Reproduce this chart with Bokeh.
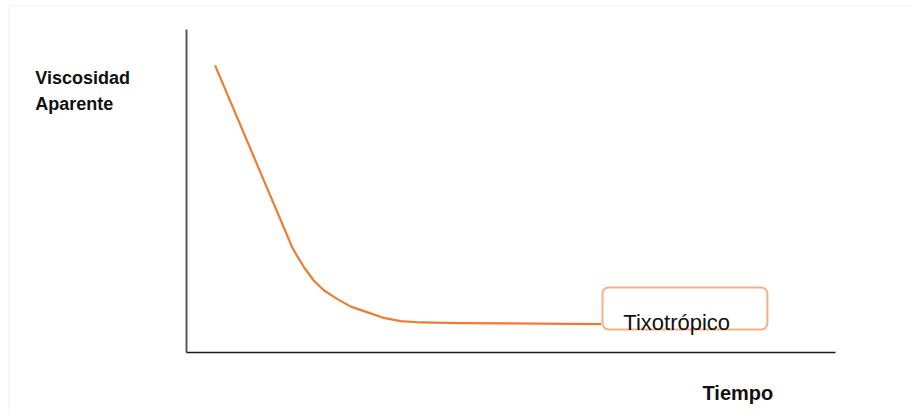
from bokeh.plotting import figure
from bokeh.models import Label, BoxAnnotation, Range1d
from bokeh.embed import file_html
from bokeh.resources import INLINE

# Data (arbitrary units)
tiempo = [4.4, 16.3, 16.8, 18.1, 19.6, 21.2, 23.2, 25.3, 27.8, 30.4, 33.0, 36.1, 42.2, 63.9]
viscosidad = [88.9, 32.5, 30.7, 26.4, 22.3, 19.2, 16.6, 14.2, 12.5, 10.7, 9.7, 9.3, 9.1, 8.8]
axis_x = [0, 0, 100]
axis_y = [100, 0, 0]
y_label_lines = ["Viscosidad", "Aparente"]
x_label = "Tiempo"
curve_label = "Tixotrópico"

FONT = "Liberation Sans"

# whole canvas is the frame; axes drawn at data origin
p = figure(width=912, height=415, output_backend="svg", toolbar_location=None,
           x_range=Range1d(-28.66, 111.86), y_range=Range1d(-19.50, 108.98),
           min_border=0, x_axis_type=None, y_axis_type=None)
p.outline_line_color = None
p.grid.visible = False
p.background_fill_color = "white"
p.border_fill_color = "white"

# page border
p.add_layout(BoxAnnotation(left=-27.4, right=113.4, top=107.4, bottom=-21,
                           fill_color=None, fill_alpha=0,
                           line_color="#e2e2e8", line_width=1.5))

# axes
p.line(axis_x[:2], axis_y[:2], line_color="#595959", line_width=2)
p.line(axis_x[1:], axis_y[1:], line_color="#1a1a1a", line_width=1.5)

p.line(tiempo, viscosidad, line_color="#ED7D31", line_width=2.2,
       line_join="round")

# label box
p.add_layout(BoxAnnotation(left=64.1, right=89.5, bottom=7.1, top=20.1,
                           fill_color="white", fill_alpha=1,
                           line_color="#F4B183", line_width=2, line_alpha=1,
                           border_radius=6))
p.add_layout(Label(x=67.3, y=9.3, text=curve_label, text_font=FONT,
                   text_font_size="22px", text_color="#111111",
                   text_baseline="alphabetic"))

for txt, yy in zip(y_label_lines, [85.1, 76.8]):
    p.add_layout(Label(x=-23.3, y=yy, text=txt, text_font=FONT,
                       text_font_size="18px", text_font_style="bold",
                       text_color="#111111", text_baseline="alphabetic"))
p.add_layout(Label(x=79.5, y=-12.4, text=x_label, text_font=FONT,
                   text_font_size="20px", text_font_style="bold",
                   text_color="#111111", text_baseline="alphabetic"))

open("out.html", "w").write(file_html(p, INLINE))
